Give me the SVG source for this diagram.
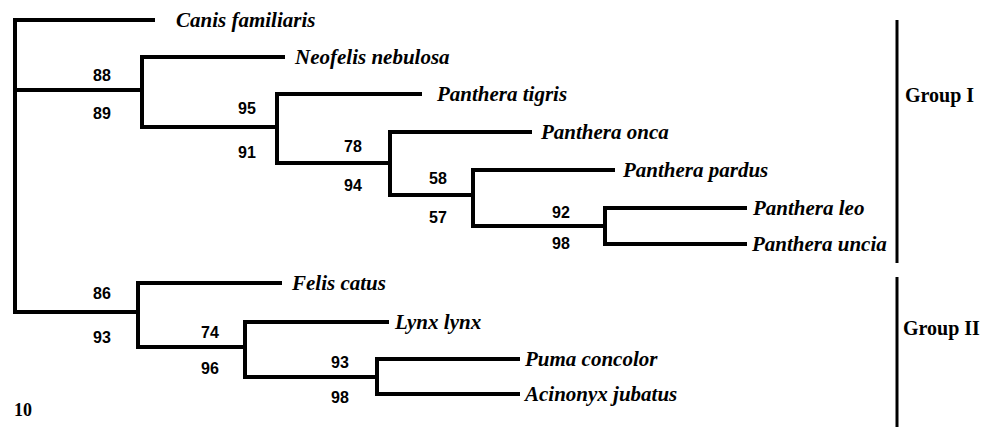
<svg xmlns="http://www.w3.org/2000/svg" width="993" height="427" viewBox="0 0 993 427">
<style>
.br{stroke:#000;stroke-width:4;fill:none;stroke-linecap:square;stroke-linejoin:miter}
.bar{stroke:#000;stroke-width:3;fill:none}
.sp{font-family:"Liberation Serif","Times New Roman",serif;font-weight:bold;font-style:italic;font-size:21px;fill:#000}
.bs{font-family:"Liberation Sans",Arial,sans-serif;font-weight:bold;font-size:16px;fill:#000;text-anchor:middle}
.gp{font-family:"Liberation Serif","Times New Roman",serif;font-weight:bold;font-size:20px;fill:#000}
</style>
<rect width="993" height="427" fill="#fff"/>
<g id="connectors">
<path class="br" d="M15,20V312"/>
<path class="br" d="M15,20H153"/>
<path class="br" d="M15,90H142"/>
<path class="br" d="M142,57V127"/>
<path class="br" d="M142,57H283"/>
<path class="br" d="M142,127H277"/>
<path class="br" d="M277,94V163"/>
<path class="br" d="M277,94H420"/>
<path class="br" d="M277,163H390"/>
<path class="br" d="M390,132V195"/>
<path class="br" d="M390,132H530"/>
<path class="br" d="M390,195H473"/>
<path class="br" d="M473,170V226"/>
<path class="br" d="M473,170H613"/>
<path class="br" d="M473,226H605"/>
<path class="br" d="M605,208V244"/>
<path class="br" d="M605,208H745"/>
<path class="br" d="M605,244H745"/>
<path class="br" d="M15,312H138"/>
<path class="br" d="M138,283V347"/>
<path class="br" d="M138,283H280"/>
<path class="br" d="M138,347H245"/>
<path class="br" d="M245,322V377"/>
<path class="br" d="M245,322H387"/>
<path class="br" d="M245,377H377"/>
<path class="br" d="M377,359V394"/>
<path class="br" d="M377,359H518"/>
<path class="br" d="M377,394H518"/>
</g>
<g id="taxa">
<text id="canis" class="sp" x="176" y="27">Canis familiaris</text>
<text id="neofelis" class="sp" x="295" y="64">Neofelis nebulosa</text>
<text id="tigris" class="sp" x="437" y="101">Panthera tigris</text>
<text id="onca" class="sp" x="541" y="139">Panthera onca</text>
<text id="pardus" class="sp" x="623" y="177">Panthera pardus</text>
<text id="leo" class="sp" x="753" y="215">Panthera leo</text>
<text id="uncia" class="sp" x="752" y="251">Panthera uncia</text>
<text id="felis" class="sp" x="292" y="290">Felis catus</text>
<text id="lynx" class="sp" x="395" y="329">Lynx lynx</text>
<text id="puma" class="sp" x="525" y="366">Puma concolor</text>
<text id="acinonyx" class="sp" x="525" y="401">Acinonyx jubatus</text>
</g>
<g id="support">
<text class="bs" x="102" y="81">88</text>
<text class="bs" x="102" y="119">89</text>
<text class="bs" x="247" y="114">95</text>
<text class="bs" x="247" y="158">91</text>
<text class="bs" x="353" y="152">78</text>
<text class="bs" x="353" y="191">94</text>
<text class="bs" x="438" y="184">58</text>
<text class="bs" x="438" y="223">57</text>
<text class="bs" x="561" y="218">92</text>
<text class="bs" x="561" y="249">98</text>
<text class="bs" x="102" y="299">86</text>
<text class="bs" x="102" y="343">93</text>
<text class="bs" x="210" y="338">74</text>
<text class="bs" x="210" y="374">96</text>
<text class="bs" x="340" y="368">93</text>
<text class="bs" x="340" y="403">98</text>
</g>
<g id="scale">
<text class="gp" x="14" y="416" style="font-size:18px">10</text>
</g>
<g id="group1">
<path class="bar" d="M897,20V263"/>
<text class="gp" x="905" y="102">Group I</text>
</g>
<g id="group2">
<path class="bar" d="M897,277V427"/>
<text class="gp" x="903" y="335">Group II</text>
</g>
</svg>
